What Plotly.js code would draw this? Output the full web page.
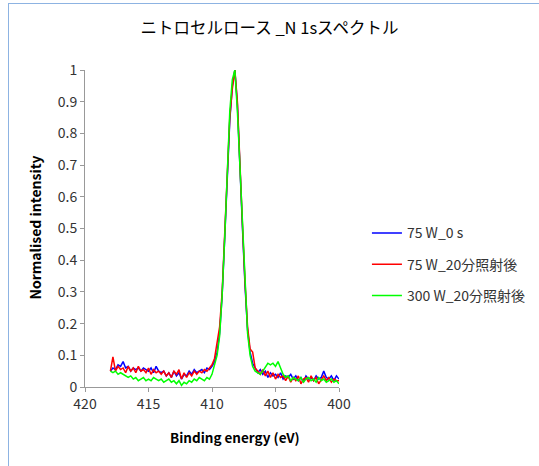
<!DOCTYPE html>
<html><head><meta charset="utf-8">
<script src="https://cdn.plot.ly/plotly-3.0.1.min.js"></script>
<style>
html,body{margin:0;padding:0;background:#fff;}
#wrap{position:relative;width:539px;height:466px;overflow:hidden;}
#chart{position:absolute;left:0;top:0;width:539px;height:466px;}
#frame{position:absolute;left:8px;top:3px;width:600px;height:600px;border-left:1px solid #8DB3E2;border-top:1px solid #8DB3E2;pointer-events:none;}
</style></head>
<body>
<div id="wrap"><div id="chart"></div><div id="frame"></div></div>
<script>
// Binding energy grid: starts at 418.0 eV, step -0.2 eV, ends at 400.0 eV (91 points)
const energyStart = 418.0;
const energyStep = -0.2;

const seriesNames = ["75 W_0 s", "75 W_20分照射後", "300 W_20分照射後"];
const seriesColors = ["#0000FF", "#FF0000", "#00FF00"];

const blue75W0s = [
0.05,0.06,0.055,0.07,0.065,0.08,0.06,0.065,0.05,0.06,
0.055,0.06,0.05,0.06,0.055,0.05,0.06,0.045,0.065,0.05,
0.045,0.05,0.035,0.045,0.03,0.05,0.035,0.045,0.025,0.04,
0.035,0.05,0.04,0.055,0.045,0.05,0.055,0.045,0.06,0.055,
0.065,0.08,0.11,0.17,0.29,0.47,0.67,0.84,0.95,1.0,
0.89,0.72,0.50,0.32,0.18,0.11,0.075,0.06,0.045,0.055,
0.04,0.05,0.03,0.045,0.035,0.04,0.03,0.045,0.025,0.035,
0.03,0.04,0.025,0.035,0.02,0.03,0.015,0.035,0.025,0.03,
0.02,0.035,0.025,0.03,0.05,0.03,0.025,0.035,0.02,0.035,0.025];

const red75W20min = [
0.05,0.095,0.05,0.065,0.055,0.06,0.045,0.065,0.05,0.06,
0.045,0.065,0.05,0.055,0.045,0.06,0.04,0.055,0.045,0.05,
0.04,0.05,0.035,0.045,0.03,0.05,0.04,0.055,0.025,0.045,
0.03,0.045,0.035,0.05,0.04,0.05,0.045,0.055,0.05,0.06,
0.07,0.09,0.14,0.19,0.30,0.48,0.68,0.85,0.94,1.0,
0.90,0.73,0.51,0.33,0.19,0.12,0.11,0.06,0.05,0.04,
0.055,0.035,0.05,0.03,0.045,0.025,0.04,0.03,0.035,0.02,
0.035,0.015,0.03,0.02,0.035,0.01,0.025,0.03,0.015,0.035,
0.02,0.03,0.01,0.025,0.035,0.02,0.03,0.015,0.025,0.02,0.02];

const green300W20min = [
0.05,0.045,0.05,0.04,0.045,0.04,0.035,0.03,0.035,0.025,
0.03,0.02,0.025,0.03,0.02,0.025,0.02,0.03,0.025,0.02,
0.025,0.015,0.02,0.025,0.015,0.02,0.01,0.02,0.005,0.015,
0.01,0.02,0.015,0.025,0.02,0.03,0.025,0.02,0.03,0.025,
0.04,0.07,0.10,0.16,0.29,0.47,0.68,0.87,0.97,1.0,
0.87,0.70,0.49,0.31,0.17,0.10,0.065,0.05,0.045,0.04,
0.05,0.065,0.075,0.07,0.075,0.065,0.08,0.06,0.04,0.03,
0.035,0.02,0.03,0.025,0.02,0.03,0.015,0.025,0.03,0.02,
0.025,0.015,0.03,0.02,0.025,0.015,0.02,0.025,0.015,0.02,0.01];

const xTickVals = [420, 415, 410, 405, 400];
const yTickVals = [0,0.1,0.2,0.3,0.4,0.5,0.6,0.7,0.8,0.9,1];
const yTickText = ["0","0.1","0.2","0.3","0.4","0.5","0.6","0.7","0.8","0.9","1"];

const allSeries = [blue75W0s, red75W20min, green300W20min];
const FONT = '"Noto Sans CJK JP", "Noto Sans", sans-serif';

const traces = allSeries.map((vals, k) => ({
  type: 'scatter', mode: 'lines',
  x0: energyStart, dx: energyStep, y: vals,
  name: seriesNames[k], legendgroup: 'g' + k,
  line: {color: seriesColors[k], width: 1.5}
}));

const layout = {
  width: 539, height: 466,
  margin: {l: 85, r: 200, t: 70, b: 79, autoexpand: false},
  paper_bgcolor: '#fff', plot_bgcolor: '#fff',
  font: {family: FONT, color: '#333', size: 13},
  title: {text: 'ニトロセルロース _N 1sスペクトル', x: 0.5, xanchor: 'center',
          y: 1 - 28/466, yref: 'container', yanchor: 'middle',
          font: {family: FONT, size: 16.5, color: '#000'}},
  xaxis: {range: [420, 400], tickvals: xTickVals, ticks: 'outside', ticklen: 4,
          tickcolor: '#999', showline: true, linecolor: '#999', linewidth: 1,
          showgrid: false, zeroline: false, automargin: false, tickfont: {size: 14, color: '#333'}},
  yaxis: {range: [0, 1], tickvals: yTickVals, ticktext: yTickText, ticks: 'outside', ticklen: 4,
          tickcolor: '#999', showline: true, linecolor: '#999', linewidth: 1,
          showgrid: false, zeroline: false, automargin: false, tickfont: {size: 14, color: '#333'}},
  showlegend: true,
  legend: {x: 1.11, xanchor: 'left', y: 0.535, yanchor: 'top',
           traceorder: 'grouped', tracegroupgap: 10,
           font: {family: FONT, size: 14, color: '#333'}, bgcolor: 'rgba(0,0,0,0)'},
  annotations: [
    {text: '<b>Binding energy (eV)</b>', xref: 'paper', yref: 'paper', x: 0.59, y: -0.158,
     xanchor: 'center', yanchor: 'middle', showarrow: false, font: {family: FONT, size: 13.5, color: '#000'}},
    {text: '<b>Normalised intensity</b>', xref: 'paper', yref: 'paper', x: -0.197, y: 0.503,
     xanchor: 'center', yanchor: 'middle', textangle: -90, showarrow: false, font: {family: FONT, size: 14, color: '#000'}}
  ]
};

Plotly.newPlot('chart', traces, layout, {displayModeBar: false, staticPlot: true});
</script>
</body></html>
